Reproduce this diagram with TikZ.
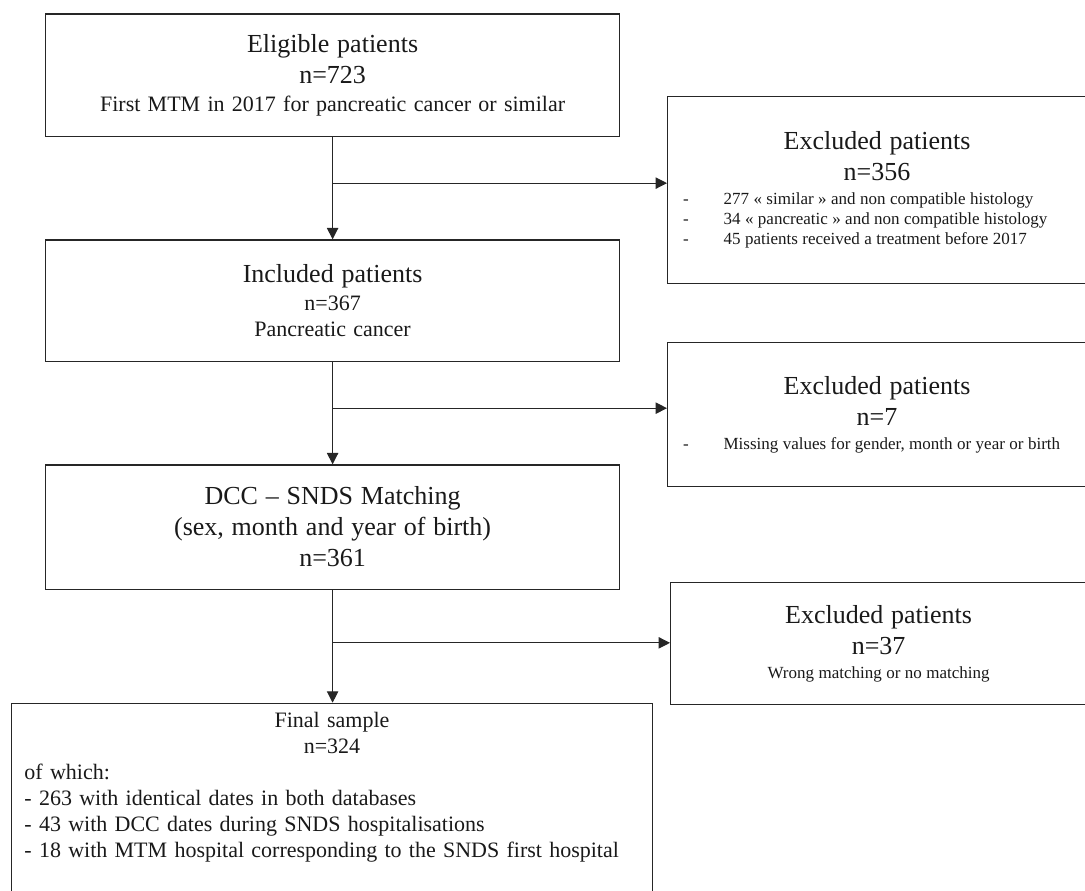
\documentclass[tikz,border=0pt]{standalone}
\usepackage{fontspec}
\setmainfont{Liberation Serif}
\usepackage{tikz}
\usetikzlibrary{arrows.meta}

\newcommand{\bigtxt}{\fontsize{19.5}{23.25}\selectfont\spaceskip=0.3em\relax}
\newcommand{\midtxt}{\fontsize{16.5}{19.5}\selectfont\spaceskip=0.33em\relax}
\newcommand{\smalltxt}{\fontsize{12.75}{15}\selectfont}
\newcommand{\exitem}[1]{\makebox[\linewidth][l]{\makebox[30.4pt][l]{-}#1}\par}
\newcommand{\leftrow}[1]{\makebox[\linewidth][l]{#1}\par}

\begin{document}
\begin{tikzpicture}[x=0.75pt,y=-0.75pt,
  flowbox/.style={draw=black!85, line width=0.9pt, rectangle, anchor=north west,
    align=center, inner ysep=0pt, text=black!90},
  mainbox/.style={flowbox, inner xsep=5pt, text width=420.5pt},
  exbox/.style={flowbox, inner xsep=11.6pt, text width=291pt},
  arr/.style={draw=black!85, line width=0.8pt, -{Triangle[length=8.5pt,width=8.5pt]}}]
\useasboundingbox (0,0) rectangle (1085,890);

\node[mainbox, minimum height=92pt] (elig) at (45,13.3)
  {{\bigtxt Eligible patients\par n=723\par}\vspace{1.5pt}
   {\midtxt First MTM in 2017 for pancreatic cancer or similar\par}};
\node[mainbox, minimum height=91.3pt] (incl) at (45,239.3)
  {{\bigtxt Included patients\par}\vspace{1.5pt}
   {\midtxt n=367\par Pancreatic cancer\par}};
\node[mainbox, minimum height=93.2pt] (dcc) at (45,464.3)
  {{\bigtxt DCC – SNDS Matching\par (sex, month and year of birth)\par n=361\par}};
\node[flowbox, inner xsep=9.8pt, text width=461.3pt, minimum height=141.2pt] (final) at (10.8,702.7)
  {{\midtxt Final sample\par n=324\par
    \leftrow{of which:}
    \leftrow{- 263 with identical dates in both databases}
    \leftrow{- 43 with DCC dates during SNDS hospitalisations}
    \leftrow{- 18 with MTM hospital corresponding to the SNDS first hospital\rule[-19.4pt]{0pt}{19.4pt}}}};

\node[exbox, minimum height=140.25pt] (ex1) at (667,95.7)
  {{\bigtxt Excluded patients\par n=356\par}\vspace{2.5pt}
   {\smalltxt \exitem{277 « similar » and non compatible histology}
    \exitem{34 « pancreatic » and non compatible histology}
    \exitem{45 patients received a treatment before 2017}}};
\node[exbox, minimum height=108.4pt] (ex2) at (667,341.5)
  {{\bigtxt Excluded patients\par n=7\par}\vspace{3pt}
   {\smalltxt \exitem{Missing values for gender, month or year or birth}}};
\node[exbox, text width=288.8pt, minimum height=91.9pt] (ex3) at (670,581.5)
  {{\bigtxt Excluded patients\par n=37\par}\vspace{3pt}
   {\smalltxt Wrong matching or no matching\par}};

\draw[arr] (elig) -- coordinate[pos=.45] (j1) (incl);
\draw[arr] (j1) -- (j1 -| ex1.west);
\draw[arr] (incl) -- coordinate[pos=.45] (j2) (dcc);
\draw[arr] (j2) -- (j2 -| ex2.west);
\draw[arr] (dcc.south) -- coordinate[pos=.47] (j3) (dcc.south |- final.north);
\draw[arr] (j3) -- (j3 -| ex3.west);
\end{tikzpicture}
\end{document}
